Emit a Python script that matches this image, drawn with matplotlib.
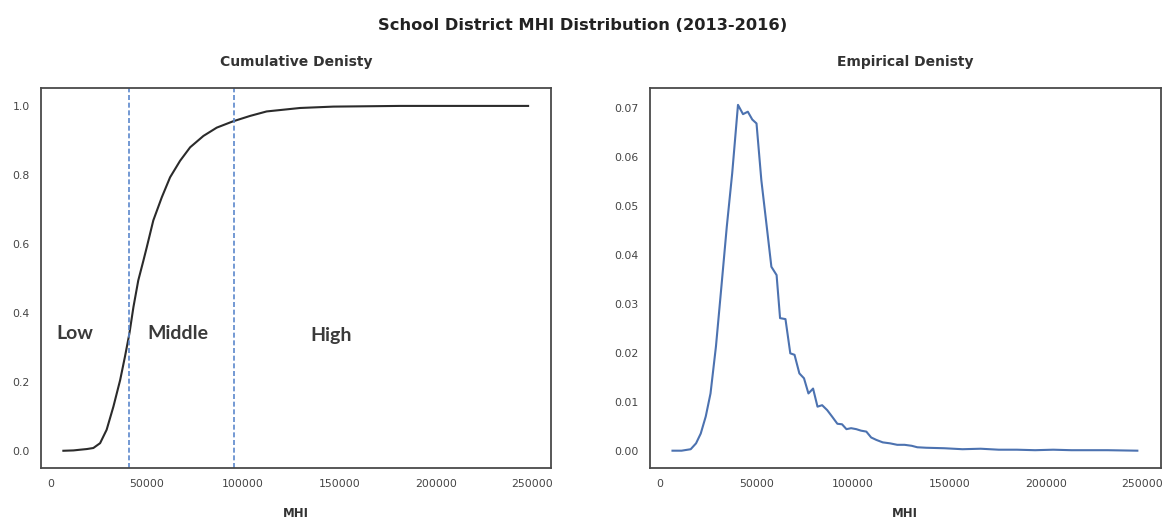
import matplotlib
matplotlib.use("Agg")
import matplotlib.pyplot as plt

# ---- data ----
cdf_x = [6750, 12000, 15400, 19000, 22300, 25800, 29200, 32700, 36200, 38700,
         41000, 43100, 45600, 48200, 50000, 53400, 57800, 62100, 67300, 72500,
         79400, 86300, 94600, 103600, 112200, 129500, 146800, 181400, 247800]
cdf_y = [0.0, 0.001, 0.003, 0.005, 0.008, 0.022, 0.061, 0.128, 0.205, 0.273,
         0.34, 0.417, 0.494, 0.55, 0.59, 0.668, 0.735, 0.793, 0.841, 0.88,
         0.913, 0.937, 0.955, 0.971, 0.984, 0.994, 0.998, 1.0, 1.0]

dens_x = [6570, 11270, 16000, 18770, 21200, 23800, 26270, 29080, 31900, 34700,
          37500, 40500, 43100, 45600, 47900, 50100, 52600, 55400, 57800, 60500,
          62300, 65100, 67600, 69800, 72300, 74700, 77000, 79400, 81700, 84100,
          86700, 89200, 92000, 94400, 96700, 99100, 101800, 104200, 107000, 109500,
          112200, 115500, 119300, 123000, 126800, 130500, 133400, 138000, 147400, 156800,
          166200, 175600, 185000, 194400, 203800, 213200, 232000, 247400]
dens_y = [0.0, 0.0, 0.0003, 0.0015, 0.0035, 0.007, 0.0117, 0.0213, 0.0335, 0.0458,
          0.0567, 0.0707, 0.0688, 0.0693, 0.0677, 0.0669, 0.0553, 0.0458, 0.0376, 0.0359,
          0.0271, 0.0269, 0.0199, 0.0196, 0.0158, 0.0148, 0.0117, 0.0127, 0.009, 0.0093,
          0.0083, 0.007, 0.0055, 0.0054, 0.0044, 0.0046, 0.0044, 0.0041, 0.0039, 0.0027,
          0.0022, 0.0017, 0.0015, 0.0012, 0.0012, 0.001, 0.0007, 0.0006, 0.0005, 0.0003,
          0.0004, 0.0002, 0.0002, 0.0001, 0.0002, 0.0001, 0.0001, 0.0]

cutoffs = [41000, 95000]
group_labels = ["Low", "Middle", "High"]
group_x = [12800, 66000, 145800]
group_y = [0.341, 0.341, 0.335]

x_ticks = [0, 50000, 100000, 150000, 200000, 250000]
cdf_ticks = [0.0, 0.2, 0.4, 0.6, 0.8, 1.0]
dens_ticks = [0.00, 0.01, 0.02, 0.03, 0.04, 0.05, 0.06, 0.07]

blue = "#4C72B0"
dash_blue = "#5b87cc"
spine_c = "#4a4a4a"
tick_c = "#444444"

fig = plt.figure(figsize=(11.65, 5.2), dpi=100)
ax1 = fig.add_axes([0.0349, 0.10, 0.4381, 0.7308])
ax2 = fig.add_axes([0.5576, 0.10, 0.4387, 0.7308])

for ax in (ax1, ax2):
    for s in ax.spines.values():
        s.set_color(spine_c)
        s.set_linewidth(1.3)
    ax.tick_params(axis="both", length=0, labelsize=7.8, colors=tick_c, pad=8)
    ax.set_xticks(x_ticks)
    ax.set_xticklabels([str(t) for t in x_ticks])
    ax.set_xlabel("MHI", fontsize=8.5, fontweight="bold", color="#333333", labelpad=13)

ax1.plot(cdf_x, cdf_y, color="#2b2b2b", lw=1.5, solid_joinstyle="round")
for c in cutoffs:
    ax1.axvline(c, color=dash_blue, ls=(0, (3, 1.6)), lw=1.2)
for lab, gx, gy in zip(group_labels, group_x, group_y):
    ax1.text(gx, gy, lab, fontsize=14, fontweight="bold", family="Lato",
             color="#3a3a3a", ha="center", va="center")
ax1.set_yticks(cdf_ticks)
ax1.set_yticklabels([f"{t:.1f}" for t in cdf_ticks])
ax1.set_xlim(-5030, 259700)
ax1.set_ylim(-0.05, 1.052)
ax1.set_title("Cumulative Denisty", fontsize=10, fontweight="bold", color="#333333", pad=16)

ax2.plot(dens_x, dens_y, color=blue, lw=1.5)
ax2.set_yticks(dens_ticks)
ax2.set_yticklabels([f"{t:.2f}" for t in dens_ticks])
ax2.set_xlim(-5290, 259500)
ax2.set_ylim(-0.00354, 0.07415)
ax2.set_title("Empirical Denisty", fontsize=10, fontweight="bold", color="#333333", pad=16)

fig.suptitle("School District MHI Distribution (2013-2016)", fontsize=11.7, fontweight="bold",
             color="#222222", y=0.965)

fig.savefig("out.png", dpi=100, facecolor="white")
